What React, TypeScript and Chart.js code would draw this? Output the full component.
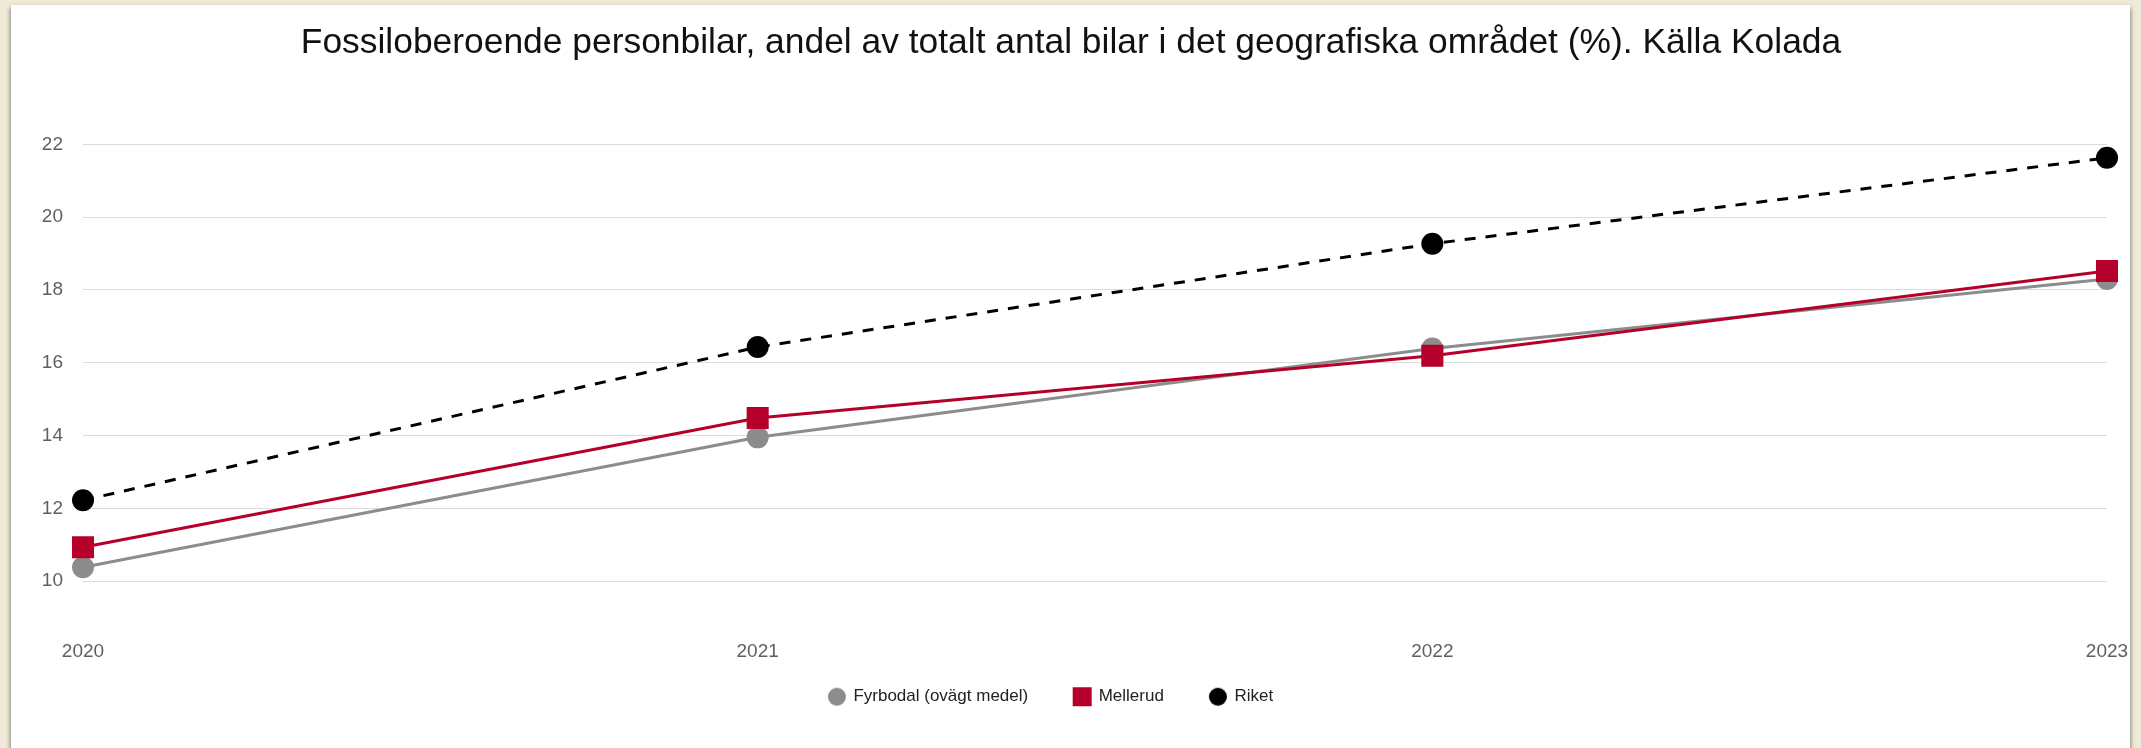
import React, { useEffect, useRef } from "react";
import { Chart, registerables } from "chart.js";

Chart.register(...registerables);

const years = ["2020", "2021", "2022", "2023"];
const fyrbodal = [10.38, 13.95, 16.39, 18.3];
const mellerud = [10.93, 14.48, 16.19, 18.52];
const riket = [12.22, 16.43, 19.27, 21.63];
const yTicks = [10, 12, 14, 16, 18, 20, 22];
const titleText =
  "Fossiloberoende personbilar, andel av totalt antal bilar i det geografiska området (%). Källa Kolada";

const FONT = "'Liberation Sans', Arial, Helvetica, sans-serif";
const GRAY = "#8c8c8c";
const RED = "#b5002b";
const BLACK = "#000000";

function makeIcon(shape: "circle" | "rect", color: string, size: number) {
  const c = document.createElement("canvas");
  c.width = size + 2;
  c.height = size + 2;
  const ctx = c.getContext("2d")!;
  ctx.fillStyle = color;
  if (shape === "circle") {
    ctx.beginPath();
    ctx.arc(c.width / 2, c.height / 2, size / 2, 0, Math.PI * 2);
    ctx.fill();
  } else {
    ctx.fillRect(1, 1, size, size);
  }
  return c;
}

const boxShift = {
  id: "boxShift",
  afterLayout(chart: any) {
    const lg = chart.legend;
    if (lg) {
      lg.top -= 44.7;
      lg.bottom -= 44.7;
      lg.left -= 8;
      lg.right -= 8;
    }
    const tt = chart.titleBlock;
    if (tt) {
      tt.left += 12;
      tt.right += 12;
    }
  },
};

export default function App() {
  const ref = useRef<HTMLCanvasElement | null>(null);

  useEffect(() => {
    if (!ref.current) return;
    const icons = [
      makeIcon("circle", GRAY, 18),
      makeIcon("rect", RED, 19),
      makeIcon("circle", BLACK, 18),
    ];
    const chart = new Chart(ref.current, {
      type: "line",
      plugins: [boxShift],
      data: {
        labels: years,
        datasets: [
          {
            label: "Fyrbodal (ovägt medel)",
            data: fyrbodal,
            borderColor: GRAY,
            backgroundColor: GRAY,
            borderWidth: 3,
            pointStyle: "circle",
            pointRadius: 11,
            pointBorderWidth: 0,
            order: 3,
          },
          {
            label: "Mellerud",
            data: mellerud,
            borderColor: RED,
            backgroundColor: RED,
            borderWidth: 3,
            pointStyle: "rect",
            pointRadius: 15.6,
            pointBorderWidth: 0,
            order: 2,
          },
          {
            label: "Riket",
            data: riket,
            borderColor: BLACK,
            backgroundColor: BLACK,
            borderWidth: 3,
            borderDash: [11, 10],
            pointStyle: "circle",
            pointRadius: 11,
            pointBorderWidth: 0,
            order: 1,
          },
        ],
      },
      options: {
        responsive: false,
        animation: false,
        events: [],
        layout: { padding: { left: 0, right: 23, top: 0, bottom: -11.9 } },
        scales: {
          x: {
            offset: false,
            grid: { display: false, drawTicks: false },
            border: { display: false },
            ticks: {
              padding: 23.3,
              color: "#5f5f5f",
              font: { family: FONT, size: 19 },
              maxRotation: 0,
            },
            afterFit: (s: any) => {
              s.paddingLeft = 0;
              s.paddingRight = 0;
            },
          },
          y: {
            min: 9,
            max: 23,
            grid: { color: "#dcdcdc", lineWidth: 1, drawTicks: false },
            border: { display: false },
            ticks: {
              padding: 20,
              color: "#5f5f5f",
              font: { family: FONT, size: 19 },
            },
            afterBuildTicks: (s: any) => {
              s.ticks = yTicks.map((v) => ({ value: v }));
            },
            afterFit: (s: any) => {
              s.width = 72;
            },
          },
        },
        plugins: {
          title: {
            display: true,
            text: titleText,
            color: "#111",
            font: { family: FONT, size: 35.4, weight: "normal" },
            padding: { top: 17, bottom: 43.5 },
          },
          legend: {
            display: true,
            position: "bottom",
            labels: {
              usePointStyle: true,
              boxWidth: 16,
              boxHeight: 16,
              padding: 46,
              color: "#222",
              font: { family: FONT, size: 17 },
              sort: (a: any, b: any) => a.datasetIndex - b.datasetIndex,
              generateLabels: (ch: any) => {
                const items = Chart.defaults.plugins.legend.labels.generateLabels(ch);
                return items.map((it: any, i: number) => ({
                  ...it,
                  pointStyle: icons[it.datasetIndex ?? i],
                }));
              },
            },
          },
          tooltip: { enabled: false },
        },
      },
    });
    return () => chart.destroy();
  }, []);

  return (
    <div
      style={{
        position: "fixed",
        inset: 0,
        background: "#efebd8",
        overflow: "hidden",
      }}
    >
      <div
        style={{
          position: "absolute",
          left: 11,
          top: 5,
          width: 2119,
          height: 760,
          background: "#ffffff",
          boxShadow: "0 3px 5px rgba(0,0,0,0.6)",
        }}
      >
        <canvas ref={ref} width={2119} height={743} style={{ display: "block" }} />
      </div>
    </div>
  );
}
